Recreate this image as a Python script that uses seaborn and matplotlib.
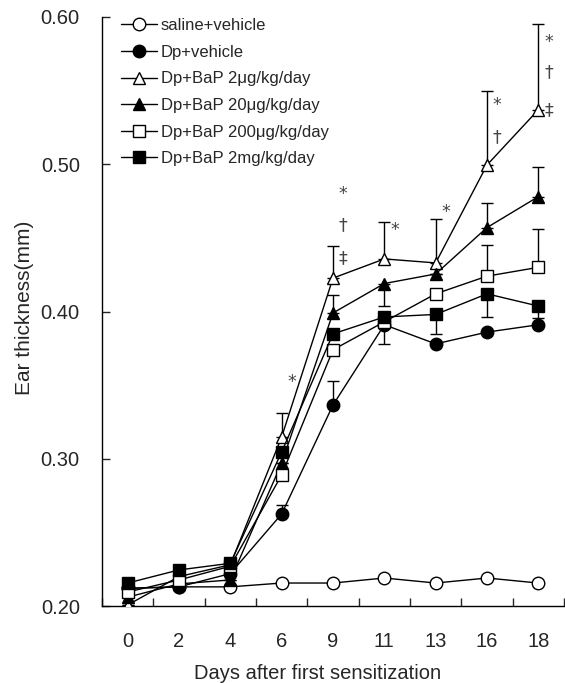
import matplotlib
matplotlib.use("Agg")
import matplotlib.pyplot as plt
import seaborn as sns
import numpy as np
import pandas as pd

days = ["0", "2", "4", "6", "9", "11", "13", "16", "18"]
y_ticks = [0.20, 0.30, 0.40, 0.50, 0.60]

labels = ["saline+vehicle", "Dp+vehicle", "Dp+BaP 2\u03bcg/kg/day",
          "Dp+BaP 20\u03bcg/kg/day", "Dp+BaP 200\u03bcg/kg/day", "Dp+BaP 2mg/kg/day"]

saline_vehicle = [0.212, 0.213, 0.213, 0.2156, 0.2156, 0.219, 0.2156, 0.219, 0.2156]
dp_vehicle     = [0.212, 0.213, 0.222, 0.2625, 0.3365, 0.391, 0.378, 0.386, 0.391]
bap_2ug        = [0.2007, 0.220, 0.228, 0.3148, 0.4227, 0.4357, 0.433, 0.4995, 0.537]
bap_20ug       = [0.206, 0.215, 0.2177, 0.297, 0.399, 0.419, 0.4255, 0.457, 0.478]
bap_200ug      = [0.2095, 0.2177, 0.227, 0.289, 0.374, 0.393, 0.412, 0.424, 0.430]
bap_2mg        = [0.2156, 0.2245, 0.229, 0.3046, 0.3848, 0.3963, 0.398, 0.412, 0.4037]

# one-sided SEM bars (upper, lower)
saline_err_up = [0, 0, 0, 0, 0, 0, 0, 0, 0]
saline_err_dn = [0, 0, 0, 0, 0, 0, 0, 0, 0]
dpv_err_up    = [0, 0, 0, 0.006, 0.016, 0, 0, 0, 0]
dpv_err_dn    = [0, 0, 0, 0, 0, 0.013, 0, 0, 0]
b2u_err_up    = [0, 0, 0, 0.016, 0.022, 0.025, 0.030, 0.050, 0.058]
b2u_err_dn    = [0, 0, 0, 0, 0, 0, 0, 0, 0]
b20u_err_up   = [0, 0, 0, 0, 0.012, 0, 0, 0.017, 0.020]
b20u_err_dn   = [0, 0, 0, 0, 0, 0.015, 0, 0, 0]
b200u_err_up  = [0, 0, 0, 0, 0, 0, 0, 0.021, 0.026]
b200u_err_dn  = [0, 0, 0, 0, 0, 0, 0, 0, 0]
b2m_err_up    = [0, 0, 0, 0, 0, 0, 0, 0, 0]
b2m_err_dn    = [0, 0, 0, 0, 0, 0, 0.013, 0.016, 0.008]

series = [saline_vehicle, dp_vehicle, bap_2ug, bap_20ug, bap_200ug, bap_2mg]
errs_up = [saline_err_up, dpv_err_up, b2u_err_up, b20u_err_up, b200u_err_up, b2m_err_up]
errs_dn = [saline_err_dn, dpv_err_dn, b2u_err_dn, b20u_err_dn, b200u_err_dn, b2m_err_dn]

# significance marks: (day index, value, symbol)
sig_days   = [3, 4, 4, 4, 5, 6, 7, 7, 8, 8, 8]
sig_vals   = [0.352, 0.4798, 0.4587, 0.4363, 0.4553, 0.4676, 0.540, 0.5185, 0.583, 0.5627, 0.537]
sig_syms   = ["*", "*", "\u2020", "\u2021", "*", "*", "*", "\u2020", "*", "\u2020", "\u2021"]

sns.set_style("ticks")
plt.rcParams["font.family"] = ["Liberation Sans", "DejaVu Sans"]

W, H = 565, 683
fig = plt.figure(figsize=(W / 100, H / 100), dpi=100)
ax_l, ax_r, ax_t, ax_b = 102, 564, 17, 606
ax = fig.add_axes([ax_l / W, 1 - ax_b / H, (ax_r - ax_l) / W, (ax_b - ax_t) / H])

markers = ["o", "o", "^", "^", "s", "s"]
faces = ["white", "black", "white", "black", "white", "black"]
x = np.arange(len(days))

rows = []
for lab, vals in zip(labels, series):
    for i, v in enumerate(vals):
        rows.append({"day": i, "value": v, "group": lab})
df = pd.DataFrame(rows)

# error bars first (behind markers)
for vals, up, dn in zip(series, errs_up, errs_dn):
    ax.errorbar(x, vals, yerr=[dn, up], fmt="none", ecolor="black",
                elinewidth=1.0, capsize=4, capthick=1.0, zorder=2)

for lab, m, fc in zip(labels, markers, faces):
    sub = df[df["group"] == lab]
    sns.lineplot(data=sub, x="day", y="value", ax=ax, color="black",
                 linewidth=1.0, marker=m, markersize=9 if m != "s" else 8.5,
                 markerfacecolor=fc, markeredgecolor="black", markeredgewidth=1.0,
                 label=lab, zorder=3)

for d, v, s in zip(sig_days, sig_vals, sig_syms):
    ax.text(d + 0.2, v, s, ha="center", va="center", fontsize=12.5,
            color="#444444", family=["DejaVu Sans"])

ax.set_xlim(-0.5, len(days) - 0.5)
ax.set_ylim(0.20, 0.60)
ax.set_xticks(x)
ax.set_xticklabels(days, fontsize=14.5)
ax.set_xticks(np.arange(-0.5, len(days), 1.0), minor=True)
ax.tick_params(axis="x", which="major", length=0, pad=19)
ax.tick_params(axis="x", which="minor", direction="in", length=6, width=1)
ax.set_yticks(y_ticks)
ax.set_yticklabels([f"{t:.2f}" for t in y_ticks], fontsize=14.5)
ax.tick_params(axis="y", direction="in", length=6, width=1, pad=16)
ax.set_xlabel("Days after first sensitization", fontsize=14.5)
ax.set_ylabel("Ear thickness(mm)", fontsize=15)
ax.xaxis.set_label_coords((318 - ax_l) / (ax_r - ax_l), -(664 - ax_b) / (ax_b - ax_t))
ax.yaxis.set_label_coords(-(ax_l - 34) / (ax_r - ax_l), (ax_b - 308) / (ax_b - ax_t))
for sp in ["top", "right"]:
    ax.spines[sp].set_visible(False)
for sp in ["left", "bottom"]:
    ax.spines[sp].set_linewidth(1.0)
    ax.spines[sp].set_color("black")

leg = ax.legend(loc="upper left", bbox_to_anchor=(121 / W, 1 - 18 / H),
                bbox_transform=fig.transFigure, frameon=False,
                fontsize=12, handlelength=2.15, handletextpad=0.25,
                labelspacing=0.70, borderaxespad=0, borderpad=0)

fig.savefig("out.png", dpi=100)
